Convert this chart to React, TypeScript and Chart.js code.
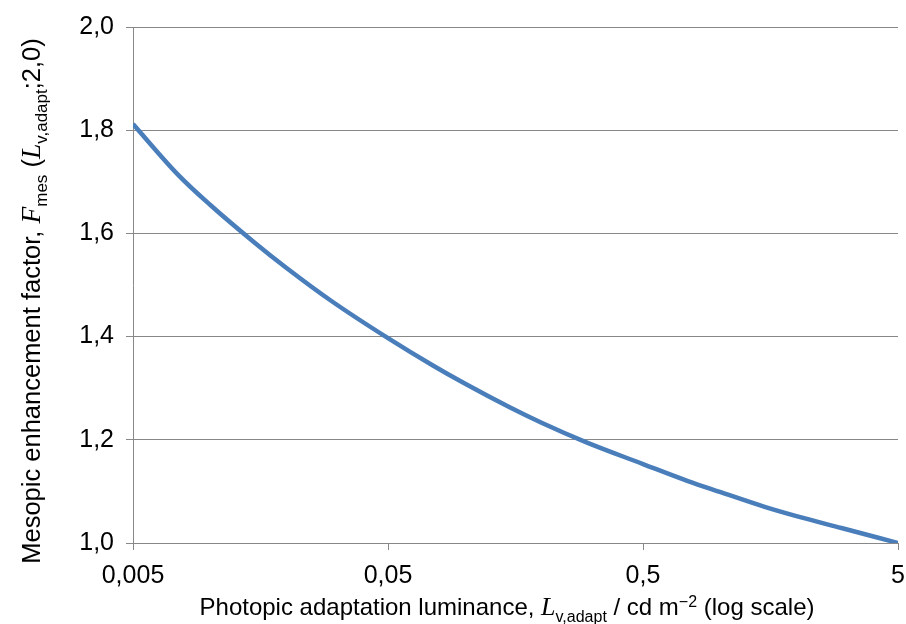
import React, { useEffect, useRef } from "react";
import { Chart, registerables } from "chart.js";

Chart.register(...registerables);

const luminance = [0.005, 0.0075, 0.01, 0.015, 0.02, 0.03, 0.05, 0.075, 0.1, 0.15, 0.2, 0.3, 0.5, 0.75, 1, 1.5, 2, 3, 5];
const fmes = [1.812, 1.714, 1.656, 1.582, 1.533, 1.469, 1.397, 1.344, 1.309, 1.263, 1.233, 1.195, 1.153, 1.12, 1.099, 1.07, 1.052, 1.029, 1.0];
const xTicks = [0.005, 0.05, 0.5, 5];
const xTickLabels = ["0,005", "0,05", "0,5", "5"];

type Seg = { t: string; kind?: "it" | "sub" | "sup" };

const yTitle: Seg[] = [
  { t: "Mesopic enhancement factor, " },
  { t: "F", kind: "it" },
  { t: "mes", kind: "sub" },
  { t: " (" },
  { t: "L", kind: "it" },
  { t: "v,adapt", kind: "sub" },
  { t: ";2,0)" },
];
const xTitle: Seg[] = [
  { t: "Photopic adaptation luminance, " },
  { t: "L", kind: "it" },
  { t: "v,adapt", kind: "sub" },
  { t: " / cd m" },
  { t: "\u22122", kind: "sup" },
  { t: " (log scale)" },
];

const SANS = '"Liberation Sans", Arial, sans-serif';
const SERIF = '"Liberation Serif", "Times New Roman", serif';
const TICK_SIZE = 25;

function segFont(s: Seg, base: number) {
  if (s.kind === "it") return `italic ${base + 2}px ${SERIF}`;
  if (s.kind === "sub" || s.kind === "sup") return `${Math.round(base * 0.67)}px ${SANS}`;
  return `${base}px ${SANS}`;
}
function segDy(s: Seg, base: number) {
  if (s.kind === "sub") return base * 0.28;
  if (s.kind === "sup") return -base * 0.35;
  return 0;
}

function drawRich(ctx: CanvasRenderingContext2D, segs: Seg[], base: number, cx: number, cy: number, rot: number) {
  ctx.save();
  ctx.translate(cx, cy);
  ctx.rotate(rot);
  let total = 0;
  const widths = segs.map((s) => {
    ctx.font = segFont(s, base);
    const w = ctx.measureText(s.t).width;
    total += w;
    return w;
  });
  let x = -total / 2;
  ctx.fillStyle = "#000";
  ctx.textBaseline = "alphabetic";
  ctx.textAlign = "left";
  segs.forEach((s, i) => {
    ctx.font = segFont(s, base);
    ctx.fillText(s.t, x, segDy(s, base));
    x += widths[i];
  });
  ctx.restore();
}

const titlePlugin = {
  id: "richTitles",
  afterDraw(chart: any) {
    const ctx = chart.ctx as CanvasRenderingContext2D;
    drawRich(ctx, yTitle, 25.5, 40, 301, -Math.PI / 2);
    drawRich(ctx, xTitle, 24, 507, 615, 0);
  },
};

export default function App() {
  const ref = useRef<HTMLCanvasElement>(null);
  useEffect(() => {
    const grid = "#888888";
    const chart = new Chart(ref.current as HTMLCanvasElement, {
      type: "line",
      data: {
        datasets: [
          {
            data: luminance.map((x, i) => ({ x, y: fmes[i] })),
            borderColor: "#4A7EBB",
            borderWidth: 4.5,
            pointRadius: 0,
            cubicInterpolationMode: "monotone",
            fill: false,
          },
        ],
      },
      options: {
        animation: false,
        responsive: false,
        maintainAspectRatio: false,
        layout: { padding: { left: 0, top: 27, right: 8, bottom: 0 } },
        plugins: { legend: { display: false }, tooltip: { enabled: false } },
        scales: {
          x: {
            type: "logarithmic",
            min: 0.005,
            max: 5,
            afterBuildTicks: (scale: any) => {
              scale.ticks = xTicks.map((v) => ({ value: v, major: true }));
            },
            afterFit: (scale: any) => {
              scale.height = 81;
              scale.paddingLeft = 0;
              scale.paddingRight = 0;
            },
            ticks: {
              autoSkip: false,
              maxRotation: 0,
              padding: 11,
              color: "#000",
              font: { family: SANS, size: TICK_SIZE },
              callback: (v: any) => {
                const i = xTicks.findIndex((t) => Math.abs(t - Number(v)) < 1e-9);
                return i >= 0 ? xTickLabels[i] : "";
              },
            },
            grid: { drawOnChartArea: false, color: grid, tickLength: 7, lineWidth: 1 },
            border: { color: grid, width: 1 },
          },
          y: {
            min: 1,
            max: 2,
            afterFit: (scale: any) => {
              scale.width = 133;
              scale.paddingTop = 0;
              scale.paddingBottom = 0;
            },
            ticks: {
              stepSize: 0.2,
              padding: 12,
              color: "#000",
              font: { family: SANS, size: TICK_SIZE },
              callback: (v: any) => Number(v).toFixed(1).replace(".", ","),
            },
            grid: { color: grid, tickLength: 7, lineWidth: 1 },
            border: { color: grid, width: 1 },
          },
        },
      },
      plugins: [titlePlugin],
    } as any);
    return () => chart.destroy();
  }, []);
  return (
    <div style={{ position: "absolute", left: 0, top: 0, width: 906, height: 624, background: "#fff" }}>
      <canvas ref={ref} width={906} height={624} style={{ width: 906, height: 624, display: "block" }} />
    </div>
  );
}
